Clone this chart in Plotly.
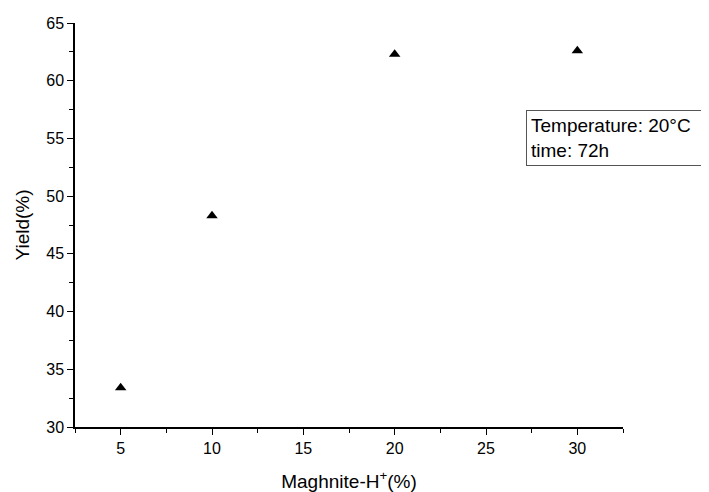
import plotly.graph_objects as go

loading = [5, 10, 20, 30]
yield_pct = [33.4, 48.3, 62.3, 62.6]
x_ticks = [5, 10, 15, 20, 25, 30]
y_ticks = [30, 35, 40, 45, 50, 55, 60, 65]

fig = go.Figure()
fig.add_trace(go.Scatter(
    x=loading, y=yield_pct, mode="markers",
    marker=dict(symbol="triangle-up", size=10, color="black"),
    showlegend=False,
))

font = "Liberation Sans, Arial, sans-serif"
fig.update_layout(
    width=701, height=484,
    margin=dict(l=67, r=86, t=15, b=65),
    plot_bgcolor="white", paper_bgcolor="white",
    font=dict(family=font, color="black"),
    xaxis=dict(
        range=[2.5, 32.5], tickvals=x_ticks, ticks="outside", ticklen=6,
        tickwidth=1, tickcolor="black", showline=True, linecolor="black",
        linewidth=1.5, showgrid=False, zeroline=False, automargin=False,
        tickfont=dict(size=16, family=font),
        minor=dict(tickvals=[2.5, 7.5, 12.5, 17.5, 22.5, 27.5, 32.5],
                   ticks="outside", ticklen=4, tickcolor="black", showgrid=False),
        title=dict(text="Maghnite-H<sup>+</sup>(%)", font=dict(size=19, family=font), standoff=22),
    ),
    yaxis=dict(
        range=[30, 65], tickvals=y_ticks, ticks="outside", ticklen=6,
        tickwidth=1, tickcolor="black", showline=True, linecolor="black",
        linewidth=1.5, showgrid=False, zeroline=False, automargin=False,
        tickfont=dict(size=16, family=font),
        minor=dict(tickvals=[32.5, 37.5, 42.5, 47.5, 52.5, 57.5, 62.5],
                   ticks="outside", ticklen=4, tickcolor="black", showgrid=False),
        title=dict(text="Yield(%)", font=dict(size=19, family=font), standoff=12),
    ),
)

fig.add_annotation(
    xref="paper", yref="paper", x=0.823, y=0.785,
    xanchor="left", yanchor="top", align="left", showarrow=False,
    text="Temperature: 20°C<br>time: 72h",
    font=dict(size=19, family=font, color="black"),
    bordercolor="#555", borderwidth=1, borderpad=4, bgcolor="white",
    width=230,
)

fig.write_html("out.html")
